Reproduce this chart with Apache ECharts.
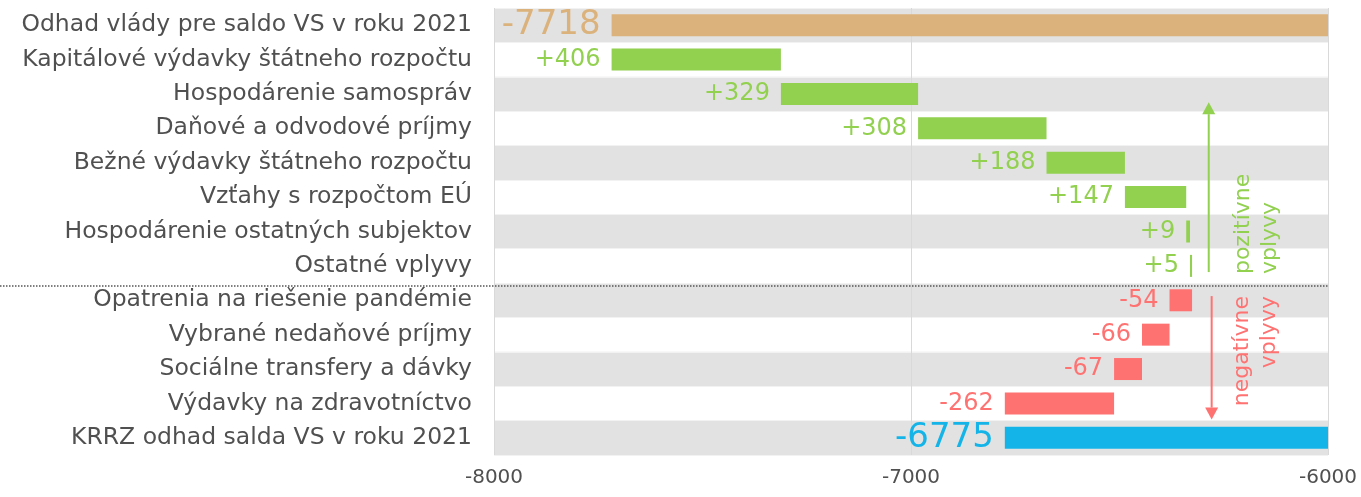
<!DOCTYPE html>
<html>
<head>
<meta charset="utf-8">
<script src="https://cdn.jsdelivr.net/npm/echarts@6/dist/echarts.min.js"></script>
<style>
html,body{margin:0;padding:0;background:#fff;}
#main{width:1361px;height:497px;}
</style>
</head>
<body>
<div id="main"></div>
<script>
var categories = ['Odhad vlády pre saldo VS v roku 2021','Kapitálové výdavky štátneho rozpočtu','Hospodárenie samospráv',
    'Daňové a odvodové príjmy','Bežné výdavky štátneho rozpočtu','Vzťahy s rozpočtom EÚ','Hospodárenie ostatných subjektov',
    'Ostatné vplyvy','Opatrenia na riešenie pandémie','Vybrané nedaňové príjmy','Sociálne transfery a dávky',
    'Výdavky na zdravotníctvo','KRRZ odhad salda VS v roku 2021'];
var startValue = -7718;
var changes = [406, 329, 308, 188, 147, 9, 5, -54, -66, -67, -262];
var endValue = -6775;
var xTicks = [-8000, -7000, -6000];

var FONT = 'DejaVu Sans';
var GREY = '#505050';
var C_START = '#dbb27b', C_POS = '#92d050', C_NEG = '#ff7272', C_END = '#14b4e8';

// waterfall: invisible base (end nearer zero) + visible negative segment stacked on it
var baseData = ['-'], segData = [];
segData.push({value: startValue, itemStyle:{color:C_START}, label:{color:C_START, fontSize:34, formatter: String(startValue)}});
var run = startValue;
changes.forEach(function(c){
    var next = run + c;
    var hi = Math.max(run, next), lo = Math.min(run, next);
    baseData.push(hi);
    var col = c > 0 ? C_POS : C_NEG;
    segData.push({value: lo - hi, itemStyle:{color:col}, label:{color:col, formatter: (c > 0 ? '+' : '') + c}});
    run = next;
});
baseData.push('-');
segData.push({value: endValue, itemStyle:{color:C_END}, label:{color:C_END, fontSize:34, formatter: String(endValue)}});

var chart = echarts.init(document.getElementById('main'));
chart.setOption({
    animation:false,
    grid:{left:494, right:33, top:8, bottom:42, containLabel:false},
    xAxis:{
        type:'value', min:xTicks[0], max:xTicks[xTicks.length-1], interval:1000, position:'bottom',
        axisLine:{show:false}, axisTick:{show:false},
        axisLabel:{color:GREY, fontFamily:FONT, fontSize:20, margin:13, formatter:function(v){ return String(v); }},
        splitLine:{show:true, lineStyle:{color:'#d9d9d9', width:1}}
    },
    yAxis:{
        type:'category', data:categories, inverse:true,
        axisLine:{show:false}, axisTick:{show:false},
        axisLabel:{color:GREY, fontFamily:FONT, fontSize:23.5, margin:22},
        splitArea:{show:true, areaStyle:{color:['#e2e2e2','#ffffff']}},
        splitLine:{show:true, lineStyle:{color:'#f2f2f2', width:1}}
    },
    series:[
        {type:'bar', stack:'w', data:baseData, barWidth:22, itemStyle:{color:'transparent'}, silent:true},
        {type:'bar', stack:'w', data:segData, barWidth:22,
         label:{show:true, position:'left', distance:11, fontFamily:FONT, fontSize:24}}
    ]
});

// annotations placed from data coordinates
function px(x, cat){ return chart.convertToPixel({gridIndex:0}, [x, cat]); }
var rowTop = function(i){ return (px(-7000, i)[1] + px(-7000, i-1)[1]) / 2; };
var sepY = rowTop(8) + 3;
var rightX = px(-6000, 0)[0];
var gX = px(-6286, 0)[0], rX = px(-6279, 0)[0];
var gTop = rowTop(3) - 9, gBot = rowTop(8) - 11;
var rTop = rowTop(8) + 13, rBot = rowTop(12) - 1;
var aw = 6.5, ah = 12;
var txtFont = '22px "' + FONT + '"';
chart.setOption({graphic:[
    {type:'line', shape:{x1:0, y1:sepY, x2:rightX, y2:sepY}, style:{stroke:'#555', lineWidth:1.5, lineDash:[1.5,1.5]}},
    {type:'line', shape:{x1:gX, y1:gBot, x2:gX, y2:gTop+ah}, style:{stroke:C_POS, lineWidth:2}},
    {type:'polygon', shape:{points:[[gX-aw, gTop+ah],[gX+aw, gTop+ah],[gX, gTop]]}, style:{fill:C_POS}},
    {type:'line', shape:{x1:rX, y1:rTop, x2:rX, y2:rBot-ah}, style:{stroke:C_NEG, lineWidth:2}},
    {type:'polygon', shape:{points:[[rX-aw, rBot-ah],[rX+aw, rBot-ah],[rX, rBot]]}, style:{fill:C_NEG}},
    {type:'text', x:gX+48, y:gBot+2, rotation:Math.PI/2,
     style:{text:'pozitívne\nvplyvy', fill:C_POS, font:txtFont, align:'left', verticalAlign:'middle', lineHeight:27}},
    {type:'text', x:rX+44, y:rTop, rotation:Math.PI/2,
     style:{text:'negatívne\nvplyvy', fill:C_NEG, font:txtFont, align:'right', verticalAlign:'middle', lineHeight:27}}
]});
</script>
</body>
</html>
